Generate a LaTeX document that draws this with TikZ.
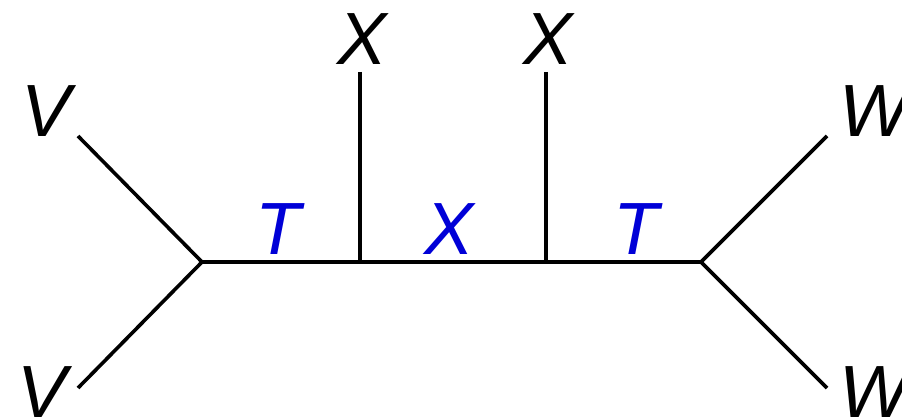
\documentclass[tikz,border=0pt]{standalone}
\usepackage{fontspec}
\setmainfont{Liberation Sans}
\definecolor{lblue}{RGB}{0,0,215}
\begin{document}
\begin{tikzpicture}[x=1pt,y=-1pt,
  edge/.style={line width=3.6pt,line cap=butt},
  lbl/.style={inner sep=0pt,font=\fontsize{74}{80}\selectfont\itshape},
  blbl/.style={lbl,text=lblue}]
\useasboundingbox (0,0) rectangle (902,419);
\coordinate (jl) at (202,262);
\coordinate (jr) at (701,262);
\coordinate (j1) at (360,262);
\coordinate (j2) at (546,262);
\coordinate (v1e) at (78,136);
\coordinate (v2e) at (78,388);
\coordinate (w1e) at (827,136);
\coordinate (w2e) at (827,388);
\coordinate (x1e) at (360,72);
\coordinate (x2e) at (546,72);
\node[lbl] (v1) at (46,111) {V};
\node[lbl] (v2) at (42,392) {V};
\node[lbl] (x1) at (362,39) {X};
\node[lbl] (x2) at (548,39) {X};
\node[lbl] (w1) at (874,111) {W};
\node[lbl] (w2) at (874,392) {W};
\node[blbl] (t1) at (278,229) {T};
\node[blbl] (xm) at (449,229) {X};
\node[blbl] (t2) at (636,229) {T};
\draw[edge] (v1e) -- (jl) -- (v2e);
\draw[edge] (w1e) -- (jr) -- (w2e);
\draw[edge] (jl) -- (jr);
\draw[edge] (x1e) -- (j1);
\draw[edge] (x2e) -- (j2);
\end{tikzpicture}
\end{document}
